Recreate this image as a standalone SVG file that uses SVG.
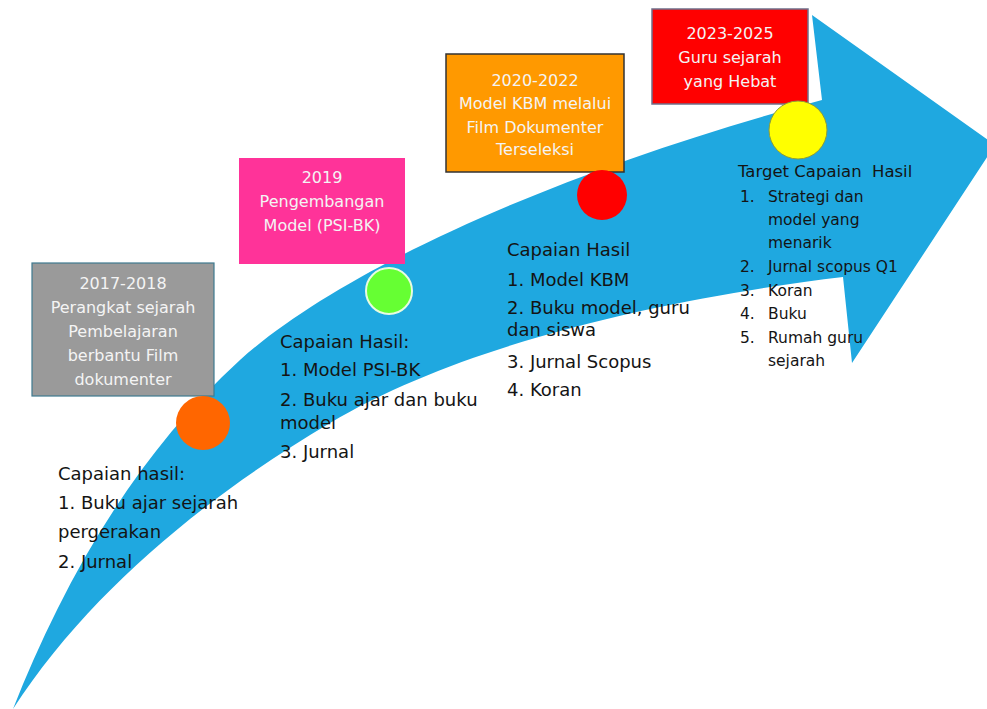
<svg xmlns="http://www.w3.org/2000/svg" width="987" height="709" viewBox="0 0 987 709">
<style>
  .bt { font-family: "DejaVu Sans", "Liberation Sans", sans-serif; font-size: 16px; fill: #f4f4f4; text-anchor: middle; }
  .tx { font-family: "DejaVu Sans", "Liberation Sans", sans-serif; font-size: 18px; fill: #141414; }
  .ts { font-family: "DejaVu Sans", "Liberation Sans", sans-serif; font-size: 15.5px; fill: #141414; white-space: pre; }
  .th { font-size: 16.5px; }
</style>
<rect width="987" height="709" fill="#ffffff"/>
<g id="arrow">
  <path d="M13,709 C60,590 130,460 240,360 C340,270 560,170 822,100 L812,15 L995,145 L852,363 L843,277 C700,294 475,336 330,423 C210,494 90,590 13,709 Z" fill="#1fa8e0"/>
</g>
<g id="connectors"></g>
<g id="node-2017">
  <rect x="32" y="263" width="182" height="133" fill="#9a9a9a" stroke="#3f7a8f" stroke-width="1.2"/>
  <text class="bt" x="123" y="289">2017-2018</text>
  <text class="bt" x="123" y="313">Perangkat sejarah</text>
  <text class="bt" x="123" y="337">Pembelajaran</text>
  <text class="bt" x="123" y="361">berbantu Film</text>
  <text class="bt" x="123" y="385">dokumenter</text>
  <circle cx="203" cy="423" r="27" fill="#ff6600"/>
  <text class="tx" x="58" y="480">Capaian hasil:</text>
  <text class="tx" x="58" y="509">1. Buku ajar sejarah</text>
  <text class="tx" x="58" y="538">pergerakan</text>
  <text class="tx" x="58" y="568">2. Jurnal</text>
</g>
<g id="node-2019">
  <rect x="239" y="158" width="166" height="106" fill="#ff3399"/>
  <text class="bt" x="322" y="183">2019</text>
  <text class="bt" x="322" y="207">Pengembangan</text>
  <text class="bt" x="322" y="231">Model (PSI-BK)</text>
  <circle cx="389" cy="291" r="23" fill="#66ff33" stroke="#e8fbe0" stroke-width="2"/>
  <text class="tx" x="280" y="348">Capaian Hasil:</text>
  <text class="tx" x="280" y="376">1. Model PSI-BK</text>
  <text class="tx" x="280" y="406">2. Buku ajar dan buku</text>
  <text class="tx" x="280" y="429">model</text>
  <text class="tx" x="280" y="458">3. Jurnal</text>
</g>
<g id="node-2020">
  <rect x="446" y="54" width="178" height="118" fill="#ff9900" stroke="#333333" stroke-width="1.5"/>
  <text class="bt" x="535" y="86">2020-2022</text>
  <text class="bt" x="535" y="109">Model KBM melalui</text>
  <text class="bt" x="535" y="133">Film Dokumenter</text>
  <text class="bt" x="535" y="155">Terseleksi</text>
  <circle cx="602" cy="195" r="25" fill="#ff0000"/>
  <text class="tx" x="507" y="256">Capaian Hasil</text>
  <text class="tx" x="507" y="286">1. Model KBM</text>
  <text class="tx" x="507" y="314">2. Buku model, guru</text>
  <text class="tx" x="507" y="336">dan siswa</text>
  <text class="tx" x="507" y="368">3. Jurnal Scopus</text>
  <text class="tx" x="507" y="396">4. Koran</text>
</g>
<g id="node-2023">
  <rect x="652" y="9" width="156" height="95" fill="#ff0000" stroke="#6f6f8a" stroke-width="1.5"/>
  <text class="bt" x="730" y="39">2023-2025</text>
  <text class="bt" x="730" y="63">Guru sejarah</text>
  <text class="bt" x="730" y="87">yang Hebat</text>
  <circle cx="798" cy="130" r="29" fill="#ffff00" stroke="#8c9c3a" stroke-width="1"/>
  <text class="ts th" x="738" y="177">Target Capaian</text><text class="ts th" x="872" y="177">Hasil</text>
  <text class="ts" x="740" y="202">1.</text><text class="ts" x="768" y="202">Strategi dan</text>
  <text class="ts" x="768" y="225">model yang</text>
  <text class="ts" x="768" y="248">menarik</text>
  <text class="ts" x="740" y="272">2.</text><text class="ts" x="768" y="272">Jurnal scopus Q1</text>
  <text class="ts" x="740" y="296">3.</text><text class="ts" x="768" y="296">Koran</text>
  <text class="ts" x="740" y="319">4.</text><text class="ts" x="768" y="319">Buku</text>
  <text class="ts" x="740" y="343">5.</text><text class="ts" x="768" y="343">Rumah guru</text>
  <text class="ts" x="768" y="366">sejarah</text>
</g>
</svg>
